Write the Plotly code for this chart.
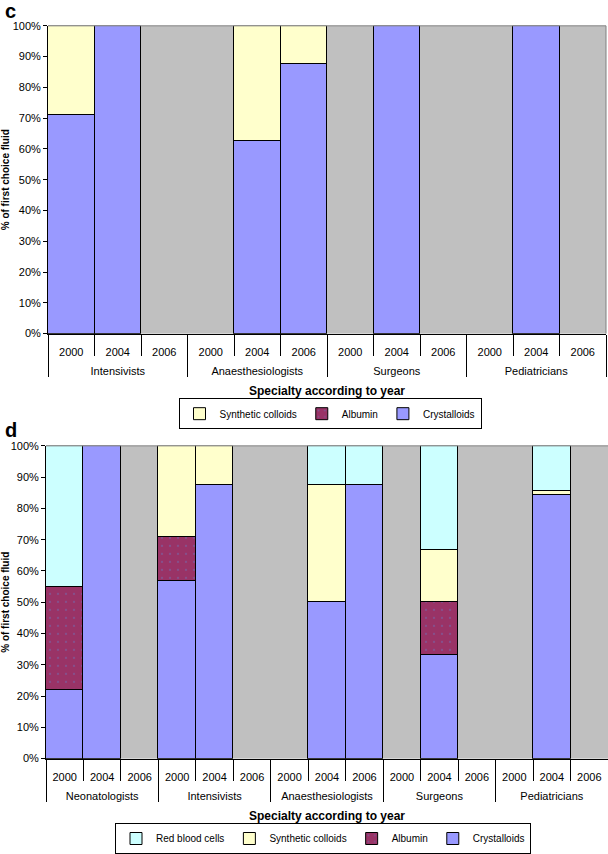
import plotly.graph_objects as go

# ---- Data: panel c ----
c_groups = ["Intensivists"] * 3 + ["Anaesthesiologists"] * 3 + ["Surgeons"] * 3 + ["Pediatricians"] * 3
c_years = ["2000", "2004", "2006"] * 4
c_crystalloids = [71, 100, None, None, 62.5, 87.5, None, 100, None, None, 100, None]
c_albumin = [None] * 12
c_synthetic = [29, None, None, None, 37.5, 12.5, None, None, None, None, None, None]

# ---- Data: panel d ----
d_groups = (["Neonatologists"] * 3 + ["Intensivists"] * 3 + ["Anaesthesiologists"] * 3
            + ["Surgeons"] * 3 + ["Pediatricians"] * 3)
d_years = ["2000", "2004", "2006"] * 5
d_crystalloids = [22, 100, None, 57, 87.5, None, None, 50, 87.5, None, 33.3, None, None, 84.4, None]
d_albumin = [33, None, None, 14, None, None, None, None, None, None, 16.7, None, None, None, None]
d_synthetic = [None, None, None, 29, 12.5, None, None, 37.5, None, None, 16.7, None, None, 1.2, None]
d_rbc = [45, None, None, None, None, None, None, 12.5, 12.5, None, 33.3, None, None, 14.4, None]

COL = {
    "Crystalloids": "#9999FF",
    "Albumin": "#993366",
    "Synthetic colloids": "#FFFFCC",
    "Red blood cells": "#CCFFFF",
}
FONT = "Liberation Sans, Arial, sans-serif"
W, H = 608, 854


def px_x(p):
    return p / W


def px_y(p):
    return 1 - p / H


fig = go.Figure()


def cats(groups, years):
    return [f"{g} {y}" for g, y in zip(groups, years)]


def add(groups, years, vals, name, xa, ya, leg):
    marker = dict(color=COL[name], line=dict(color="black", width=1))
    if name == "Albumin":
        marker["pattern"] = dict(shape=".", fgcolor="#6a78c0", size=8, solidity=0.06)
    fig.add_trace(go.Bar(x=cats(groups, years), y=vals, name=name, marker=marker,
                         xaxis=xa, yaxis=ya, legend=leg))


add(c_groups, c_years, c_crystalloids, "Crystalloids", "x", "y", "legend")
add(c_groups, c_years, c_albumin, "Albumin", "x", "y", "legend")
add(c_groups, c_years, c_synthetic, "Synthetic colloids", "x", "y", "legend")

add(d_groups, d_years, d_crystalloids, "Crystalloids", "x2", "y2", "legend2")
add(d_groups, d_years, d_albumin, "Albumin", "x2", "y2", "legend2")
add(d_groups, d_years, d_synthetic, "Synthetic colloids", "x2", "y2", "legend2")
add(d_groups, d_years, d_rbc, "Red blood cells", "x2", "y2", "legend2")

# empty helper traces so that the group-level axes get drawn
fig.add_trace(go.Scatter(x=[], y=[], xaxis="x3", yaxis="y", showlegend=False, hoverinfo="skip"))
fig.add_trace(go.Scatter(x=[], y=[], xaxis="x4", yaxis="y2", showlegend=False, hoverinfo="skip"))

TICKFONT = dict(family=FONT, size=11, color="black")


def year_axis(groups, years, domain, anchor):
    n = len(years)
    return dict(type="category", domain=domain, anchor=anchor,
                range=[-0.5, n - 0.5],
                tickmode="array", tickvals=cats(groups, years), ticktext=years,
                tickson="boundaries", ticks="outside", ticklen=21, tickcolor="black",
                ticklabelstandoff=8,
                showline=True, linecolor="black", linewidth=1,
                tickfont=TICKFONT, showgrid=False, automargin=False, fixedrange=True)


def group_axis(groups, years, domain, anchor, overlay):
    n = len(years)
    names = list(dict.fromkeys(groups))
    size = n // len(names)
    mids = [i * size + (size - 1) / 2 for i in range(len(names))]
    return dict(type="linear", domain=domain, anchor=anchor, overlaying=overlay, side="bottom",
                range=[-0.5, n - 0.5], tickmode="array", tickvals=mids, ticktext=names,
                ticks="", showline=False, zeroline=False, showgrid=False,
                minor=dict(ticks="outside", ticklen=42, tickcolor="black", tickwidth=1,
                           tick0=-0.5, dtick=size, showgrid=False),
                ticklabelstandoff=29,
                tickfont=TICKFONT, automargin=False, fixedrange=True,
                title=dict(text="<b>Specialty according to year</b>",
                           font=dict(family=FONT, size=12, color="black"), standoff=10))


ycommon = dict(range=[0, 100], dtick=10, ticksuffix="%", showline=True, linecolor="black",
               linewidth=1, ticks="outside", ticklen=4, tickcolor="black",
               tickfont=TICKFONT, showgrid=False,
               zeroline=False, automargin=False, fixedrange=True,
               title=dict(text="<b>% of first choice fluid</b>",
                          font=dict(family=FONT, size=10, color="black"), standoff=10))

dom_c = [px_x(48), px_x(606)]
dom_d = [px_x(46), 1.0]

fig.update_layout(
    width=W, height=H,
    margin=dict(l=0, r=0, t=0, b=0),
    paper_bgcolor="white", plot_bgcolor="#C0C0C0",
    barmode="stack", bargap=0,
    font=dict(family=FONT, color="black"),
    xaxis=year_axis(c_groups, c_years, dom_c, "y"),
    xaxis3=group_axis(c_groups, c_years, dom_c, "y", "x"),
    yaxis=dict(ycommon, domain=[px_y(336), px_y(26)], anchor="x"),
    xaxis2=year_axis(d_groups, d_years, dom_d, "y2"),
    xaxis4=group_axis(d_groups, d_years, dom_d, "y2", "x2"),
    yaxis2=dict(ycommon, domain=[px_y(764), px_y(449)], anchor="x2"),
    legend=dict(orientation="h", x=px_x(330), xanchor="center", y=px_y(401), yanchor="top",
                traceorder="reversed", bordercolor="black", borderwidth=1,
                font=dict(family=FONT, size=10, color="black"), bgcolor="white",
                itemclick=False, tracegroupgap=0),
    legend2=dict(orientation="h", x=px_x(323), xanchor="center", y=px_y(829), yanchor="top",
                 traceorder="reversed", bordercolor="black", borderwidth=1,
                 font=dict(family=FONT, size=10, color="black"), bgcolor="white",
                 itemclick=False, tracegroupgap=0),
    annotations=[
        dict(text="<b>c</b>", x=px_x(3), y=px_y(-2), xref="paper", yref="paper",
             xanchor="left", yanchor="top", showarrow=False,
             font=dict(family=FONT, size=20, color="black")),
        dict(text="<b>d</b>", x=px_x(3), y=px_y(420), xref="paper", yref="paper",
             xanchor="left", yanchor="top", showarrow=False,
             font=dict(family=FONT, size=20, color="black")),
    ],
    shapes=[
        dict(type="line", xref="x domain", yref="y domain", x0=0, x1=1, y0=1, y1=1,
             line=dict(color="#808080", width=1)),
        dict(type="line", xref="x domain", yref="y domain", x0=1, x1=1, y0=0, y1=1,
             line=dict(color="#808080", width=1)),
        dict(type="line", xref="x2 domain", yref="y2 domain", x0=0, x1=1, y0=1, y1=1,
             line=dict(color="#808080", width=1)),
    ],
)

fig.write_html("out.html", config={"displayModeBar": False},
               post_script="document.body.style.margin='0';document.body.style.overflow='hidden';")
